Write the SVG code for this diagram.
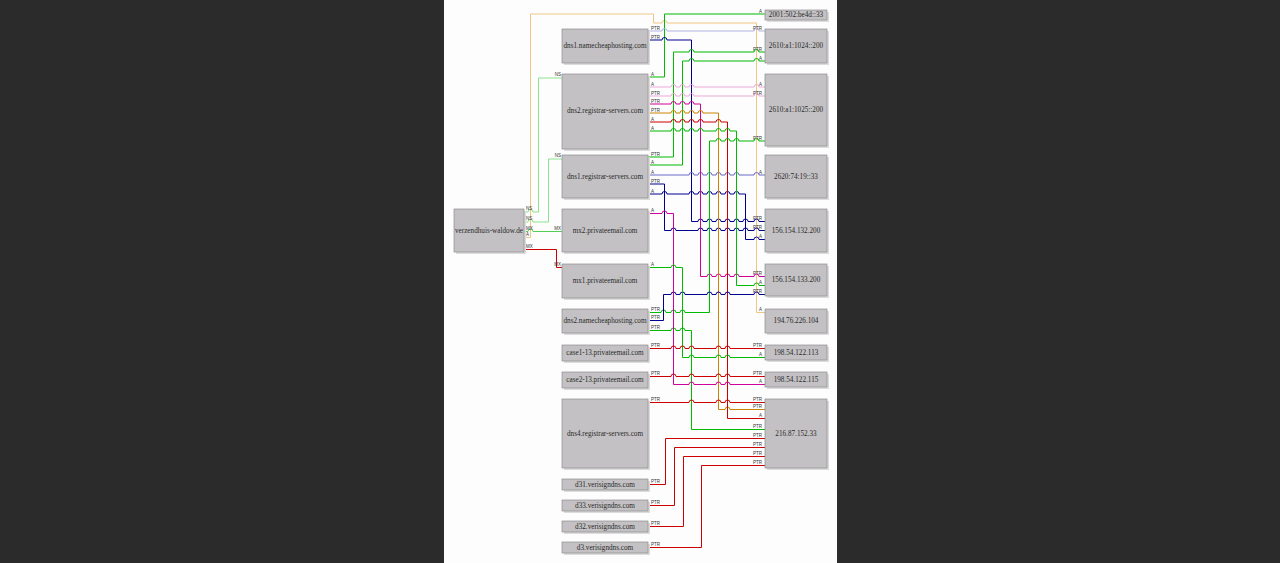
<svg xmlns="http://www.w3.org/2000/svg" width="1280" height="563" viewBox="0 0 1280 563">
<style>
.sh{fill:#dcdcdc}
.bx{fill:#c3c1c3;stroke:#8e8e8e;stroke-width:.7}
.t{font-family:"Liberation Serif",serif;font-size:7.2px;fill:#2a2a2a;text-anchor:middle;dominant-baseline:central}
.l{font-family:"Liberation Sans",sans-serif;font-size:4.5px;fill:#333}
.r{text-anchor:end}
.e{fill:none;stroke-width:1}
.og{stroke:#f0c684}.lg{stroke:#8ee38e}.gm{stroke:#55cc55}.rd{stroke:#cc0000}
.gr{stroke:#00bb00}.nv{stroke:#000090}.sl{stroke:#6a6ac8}.lv{stroke:#b4b4e4}
.mg{stroke:#d0009a}.pk{stroke:#eeaada}.or{stroke:#cc8400}
</style>
<rect width="1280" height="563" fill="#2b2b2b"/>
<rect x="444" y="0" width="393" height="563" fill="#fcfdfc"/>

<g id="connectors">
<path class="e og" d="M524,237.5 H530.5 V14 H653.5 V23 H662 a2.5,2.5 0 0 1 5,0 H756.5 V312.5 H765"/>
<path class="e lg" d="M524,212 H528 a2.5,2.5 0 0 1 5,0 H538.5 V78 H562"/>
<path class="e lg" d="M524,222 H528 a2.5,2.5 0 0 1 5,0 H548.5 V159 H562"/>
<path class="e gm" d="M524,231.5 H528 a2.5,2.5 0 0 1 5,0 H562"/>
<path class="e rd" d="M524,249.5 H556.5 V267.5 H562"/>

<path class="e gr" d="M648,77 H664.5 V14 H765"/>
<path class="e lv" d="M648,31 H662 a2.5,2.5 0 0 1 5,0 H754 a2.5,2.5 0 0 1 5,0 H765"/>
<path class="e nv" d="M648,40 H662 a2.5,2.5 0 0 1 5,0 H691.5 V221.5 H698 a2.5,2.5 0 0 1 5,0 H707 a2.5,2.5 0 0 1 5,0 H716 a2.5,2.5 0 0 1 5,0 H725 a2.5,2.5 0 0 1 5,0 H734 a2.5,2.5 0 0 1 5,0 H743 a2.5,2.5 0 0 1 5,0 H754 a2.5,2.5 0 0 1 5,0 H765"/>
<path class="e gr" d="M648,157 H673.5 V52 H689 a2.5,2.5 0 0 1 5,0 H754 a2.5,2.5 0 0 1 5,0 H765"/>
<path class="e gr" d="M648,165 H682.5 V61 H689 a2.5,2.5 0 0 1 5,0 H754 a2.5,2.5 0 0 1 5,0 H765"/>
<path class="e sl" d="M648,175 H689 a2.5,2.5 0 0 1 5,0 H698 a2.5,2.5 0 0 1 5,0 H707 a2.5,2.5 0 0 1 5,0 H716 a2.5,2.5 0 0 1 5,0 H725 a2.5,2.5 0 0 1 5,0 H734 a2.5,2.5 0 0 1 5,0 H754 a2.5,2.5 0 0 1 5,0 H765"/>
<path class="e nv" d="M648,184 H664.5 V230.5 H671 a2.5,2.5 0 0 1 5,0 H698 a2.5,2.5 0 0 1 5,0 H707 a2.5,2.5 0 0 1 5,0 H716 a2.5,2.5 0 0 1 5,0 H725 a2.5,2.5 0 0 1 5,0 H734 a2.5,2.5 0 0 1 5,0 H743 a2.5,2.5 0 0 1 5,0 H754 a2.5,2.5 0 0 1 5,0 H765"/>
<path class="e nv" d="M648,194 H662 a2.5,2.5 0 0 1 5,0 H689 a2.5,2.5 0 0 1 5,0 H698 a2.5,2.5 0 0 1 5,0 H707 a2.5,2.5 0 0 1 5,0 H716 a2.5,2.5 0 0 1 5,0 H725 a2.5,2.5 0 0 1 5,0 H734 a2.5,2.5 0 0 1 5,0 H745.5 V239.5 H754 a2.5,2.5 0 0 1 5,0 H765"/>
<path class="e pk" d="M648,87 H671 a2.5,2.5 0 0 1 5,0 H680 a2.5,2.5 0 0 1 5,0 H689 a2.5,2.5 0 0 1 5,0 H754 a2.5,2.5 0 0 1 5,0 H765"/>
<path class="e pk" d="M648,96 H671 a2.5,2.5 0 0 1 5,0 H680 a2.5,2.5 0 0 1 5,0 H689 a2.5,2.5 0 0 1 5,0 H754 a2.5,2.5 0 0 1 5,0 H765"/>
<path class="e mg" d="M648,104 H671 a2.5,2.5 0 0 1 5,0 H680 a2.5,2.5 0 0 1 5,0 H689 a2.5,2.5 0 0 1 5,0 H700.5 V276.5 H707 a2.5,2.5 0 0 1 5,0 H716 a2.5,2.5 0 0 1 5,0 H725 a2.5,2.5 0 0 1 5,0 H734 a2.5,2.5 0 0 1 5,0 H754 a2.5,2.5 0 0 1 5,0 H765"/>
<path class="e or" d="M648,113 H671 a2.5,2.5 0 0 1 5,0 H680 a2.5,2.5 0 0 1 5,0 H689 a2.5,2.5 0 0 1 5,0 H698 a2.5,2.5 0 0 1 5,0 H718.5 V409.5 H725 a2.5,2.5 0 0 1 5,0 H765"/>
<path class="e rd" d="M648,122 H671 a2.5,2.5 0 0 1 5,0 H680 a2.5,2.5 0 0 1 5,0 H689 a2.5,2.5 0 0 1 5,0 H698 a2.5,2.5 0 0 1 5,0 H716 a2.5,2.5 0 0 1 5,0 H727.5 V418.5 H765"/>
<path class="e gr" d="M648,131 H671 a2.5,2.5 0 0 1 5,0 H680 a2.5,2.5 0 0 1 5,0 H689 a2.5,2.5 0 0 1 5,0 H698 a2.5,2.5 0 0 1 5,0 H716 a2.5,2.5 0 0 1 5,0 H725 a2.5,2.5 0 0 1 5,0 H736.5 V285.5 H754 a2.5,2.5 0 0 1 5,0 H765"/>
<path class="e gr" d="M648,312.5 H661 a2.5,2.5 0 0 1 5,0 H671 a2.5,2.5 0 0 1 5,0 H680 a2.5,2.5 0 0 1 5,0 H709.5 V141 H716 a2.5,2.5 0 0 1 5,0 H725 a2.5,2.5 0 0 1 5,0 H734 a2.5,2.5 0 0 1 5,0 H754 a2.5,2.5 0 0 1 5,0 H765"/>
<path class="e nv" d="M648,320.5 H663.5 V294.5 H671 a2.5,2.5 0 0 1 5,0 H680 a2.5,2.5 0 0 1 5,0 H707 a2.5,2.5 0 0 1 5,0 H716 a2.5,2.5 0 0 1 5,0 H725 a2.5,2.5 0 0 1 5,0 H754 a2.5,2.5 0 0 1 5,0 H765"/>
<path class="e gr" d="M648,330.5 H671 a2.5,2.5 0 0 1 5,0 H680 a2.5,2.5 0 0 1 5,0 H691.5 V429.5 H765"/>
<path class="e mg" d="M648,213.5 H662 a2.5,2.5 0 0 1 5,0 H673.5 V384.5 H689 a2.5,2.5 0 0 1 5,0 H716 a2.5,2.5 0 0 1 5,0 H725 a2.5,2.5 0 0 1 5,0 H765"/>
<path class="e gr" d="M648,267.5 H671 a2.5,2.5 0 0 1 5,0 H682.5 V357.5 H689 a2.5,2.5 0 0 1 5,0 H716 a2.5,2.5 0 0 1 5,0 H725 a2.5,2.5 0 0 1 5,0 H765"/>
<path class="e rd" d="M648,348.5 H671 a2.5,2.5 0 0 1 5,0 H680 a2.5,2.5 0 0 1 5,0 H689 a2.5,2.5 0 0 1 5,0 H716 a2.5,2.5 0 0 1 5,0 H725 a2.5,2.5 0 0 1 5,0 H765"/>
<path class="e rd" d="M648,376.5 H671 a2.5,2.5 0 0 1 5,0 H689 a2.5,2.5 0 0 1 5,0 H716 a2.5,2.5 0 0 1 5,0 H725 a2.5,2.5 0 0 1 5,0 H765"/>
<path class="e rd" d="M648,402.5 H689 a2.5,2.5 0 0 1 5,0 H716 a2.5,2.5 0 0 1 5,0 H725 a2.5,2.5 0 0 1 5,0 H765"/>
<path class="e rd" d="M648,484.5 H665.5 V438.5 H765"/>
<path class="e rd" d="M648,505.5 H674.5 V447.5 H765"/>
<path class="e rd" d="M648,526.5 H683.5 V456.5 H765"/>
<path class="e rd" d="M648,547.5 H701.5 V465.5 H765"/>

<g id="edge-labels">
<text class="l" x="526" y="210">NS</text><text class="l r" x="561" y="76">NS</text>
<text class="l" x="526" y="220">NS</text><text class="l r" x="561" y="157">NS</text>
<text class="l" x="526" y="229.5">MX</text><text class="l r" x="561" y="229.5">MX</text>
<text class="l" x="526" y="236.3">A</text>
<text class="l" x="526" y="247.5">MX</text><text class="l r" x="561" y="265.5">MX</text>
<text class="l" x="651" y="75.5">A</text><text class="l r" x="762" y="12.5">A</text>
<text class="l" x="651" y="29.5">PTR</text><text class="l r" x="762" y="29.5">PTR</text>
<text class="l" x="651" y="38.5">PTR</text><text class="l r" x="762" y="219.5">PTR</text>
<text class="l" x="651" y="155.5">PTR</text><text class="l r" x="762" y="50.5">PTR</text>
<text class="l" x="651" y="163.5">A</text><text class="l r" x="762" y="59.5">A</text>
<text class="l" x="651" y="173.5">A</text><text class="l r" x="762" y="173.5">A</text>
<text class="l" x="651" y="182.5">PTR</text><text class="l r" x="762" y="228.5">PTR</text>
<text class="l" x="651" y="192.5">A</text><text class="l r" x="762" y="237.5">A</text>
<text class="l" x="651" y="85.5">A</text><text class="l r" x="762" y="85.5">A</text>
<text class="l" x="651" y="94.5">PTR</text><text class="l r" x="762" y="94.5">PTR</text>
<text class="l" x="651" y="102.5">PTR</text><text class="l r" x="762" y="274.5">PTR</text>
<text class="l" x="651" y="111.5">PTR</text><text class="l r" x="762" y="407.5">PTR</text>
<text class="l" x="651" y="120.5">A</text><text class="l r" x="762" y="416.5">A</text>
<text class="l" x="651" y="129.5">A</text><text class="l r" x="762" y="283.5">A</text>
<text class="l" x="651" y="310.5">PTR</text><text class="l r" x="762" y="139.5">PTR</text>
<text class="l" x="651" y="318.5">PTR</text><text class="l r" x="762" y="292.5">PTR</text>
<text class="l" x="651" y="328.5">PTR</text><text class="l r" x="762" y="427.5">PTR</text>
<text class="l" x="651" y="211.5">A</text><text class="l r" x="762" y="382.5">A</text>
<text class="l" x="651" y="265.5">A</text><text class="l r" x="762" y="355.5">A</text>
<text class="l" x="651" y="346.5">PTR</text><text class="l r" x="762" y="346.5">PTR</text>
<text class="l" x="651" y="374.5">PTR</text><text class="l r" x="762" y="374.5">PTR</text>
<text class="l" x="651" y="400.5">PTR</text><text class="l r" x="762" y="400.5">PTR</text>
<text class="l" x="651" y="482.5">PTR</text><text class="l r" x="762" y="436.5">PTR</text>
<text class="l" x="651" y="503.5">PTR</text><text class="l r" x="762" y="445.5">PTR</text>
<text class="l" x="651" y="524.5">PTR</text><text class="l r" x="762" y="454.5">PTR</text>
<text class="l" x="651" y="545.5">PTR</text><text class="l r" x="762" y="463.5">PTR</text>
<text class="l r" x="762" y="310.5">A</text>
</g>
</g>

<g id="n-domain"><rect class="sh" x="456" y="211" width="70" height="43"/><rect class="bx" x="454" y="209" width="70" height="43"/><text class="t" x="489" y="230.5">verzendhuis-waldow.de</text></g>

<g id="n-dns1-nch"><rect class="sh" x="564" y="31" width="86" height="34"/><rect class="bx" x="562" y="29" width="86" height="34"/><text class="t" x="605" y="46">dns1.namecheaphosting.com</text></g>
<g id="n-dns2-rs"><rect class="sh" x="564" y="76" width="86" height="75"/><rect class="bx" x="562" y="74" width="86" height="75"/><text class="t" x="605" y="111">dns2.registrar-servers.com</text></g>
<g id="n-dns1-rs"><rect class="sh" x="564" y="157" width="86" height="43"/><rect class="bx" x="562" y="155" width="86" height="43"/><text class="t" x="605" y="176.5">dns1.registrar-servers.com</text></g>
<g id="n-mx2"><rect class="sh" x="564" y="211" width="86" height="43"/><rect class="bx" x="562" y="209" width="86" height="43"/><text class="t" x="605" y="230.5">mx2.privateemail.com</text></g>
<g id="n-mx1"><rect class="sh" x="564" y="266" width="86" height="34"/><rect class="bx" x="562" y="264" width="86" height="34"/><text class="t" x="605" y="281">mx1.privateemail.com</text></g>
<g id="n-dns2-nch"><rect class="sh" x="564" y="311" width="86" height="24"/><rect class="bx" x="562" y="309" width="86" height="24"/><text class="t" x="605" y="321">dns2.namecheaphosting.com</text></g>
<g id="n-case1"><rect class="sh" x="564" y="347" width="86" height="16"/><rect class="bx" x="562" y="345" width="86" height="16"/><text class="t" x="605" y="353">case1-13.privateemail.com</text></g>
<g id="n-case2"><rect class="sh" x="564" y="374" width="86" height="16"/><rect class="bx" x="562" y="372" width="86" height="16"/><text class="t" x="605" y="380">case2-13.privateemail.com</text></g>
<g id="n-dns4-rs"><rect class="sh" x="564" y="401" width="86" height="69"/><rect class="bx" x="562" y="399" width="86" height="69"/><text class="t" x="605" y="433.5">dns4.registrar-servers.com</text></g>
<g id="n-d31"><rect class="sh" x="564" y="481" width="86" height="11"/><rect class="bx" x="562" y="479" width="86" height="11"/><text class="t" x="605" y="484.5">d31.verisigndns.com</text></g>
<g id="n-d33"><rect class="sh" x="564" y="502" width="86" height="11"/><rect class="bx" x="562" y="500" width="86" height="11"/><text class="t" x="605" y="505.5">d33.verisigndns.com</text></g>
<g id="n-d32"><rect class="sh" x="564" y="523" width="86" height="11"/><rect class="bx" x="562" y="521" width="86" height="11"/><text class="t" x="605" y="526.5">d32.verisigndns.com</text></g>
<g id="n-d3"><rect class="sh" x="564" y="544" width="86" height="11"/><rect class="bx" x="562" y="542" width="86" height="11"/><text class="t" x="605" y="547.5">d3.verisigndns.com</text></g>

<g id="n-ip-2001"><rect class="sh" x="767" y="12" width="62" height="10"/><rect class="bx" x="765" y="10" width="62" height="10"/><text class="t" x="796" y="15">2001:502:be4d::33</text></g>
<g id="n-ip-2610-1024"><rect class="sh" x="767" y="31" width="62" height="34"/><rect class="bx" x="765" y="29" width="62" height="34"/><text class="t" x="796" y="46">2610:a1:1024::200</text></g>
<g id="n-ip-2610-1025"><rect class="sh" x="767" y="76" width="62" height="72"/><rect class="bx" x="765" y="74" width="62" height="72"/><text class="t" x="796" y="110">2610:a1:1025::200</text></g>
<g id="n-ip-2620"><rect class="sh" x="767" y="157" width="62" height="43"/><rect class="bx" x="765" y="155" width="62" height="43"/><text class="t" x="796" y="176.5">2620:74:19::33</text></g>
<g id="n-ip-156-132"><rect class="sh" x="767" y="211" width="62" height="43"/><rect class="bx" x="765" y="209" width="62" height="43"/><text class="t" x="796" y="230.5">156.154.132.200</text></g>
<g id="n-ip-156-133"><rect class="sh" x="767" y="266" width="62" height="32"/><rect class="bx" x="765" y="264" width="62" height="32"/><text class="t" x="796" y="280">156.154.133.200</text></g>
<g id="n-ip-194"><rect class="sh" x="767" y="311" width="62" height="24"/><rect class="bx" x="765" y="309" width="62" height="24"/><text class="t" x="796" y="321">194.76.226.104</text></g>
<g id="n-ip-198-113"><rect class="sh" x="767" y="347" width="62" height="15"/><rect class="bx" x="765" y="345" width="62" height="15"/><text class="t" x="796" y="352.5">198.54.122.113</text></g>
<g id="n-ip-198-115"><rect class="sh" x="767" y="374" width="62" height="15"/><rect class="bx" x="765" y="372" width="62" height="15"/><text class="t" x="796" y="379.5">198.54.122.115</text></g>
<g id="n-ip-216"><rect class="sh" x="767" y="401" width="62" height="69"/><rect class="bx" x="765" y="399" width="62" height="69"/><text class="t" x="796" y="433.5">216.87.152.33</text></g>
</svg>
